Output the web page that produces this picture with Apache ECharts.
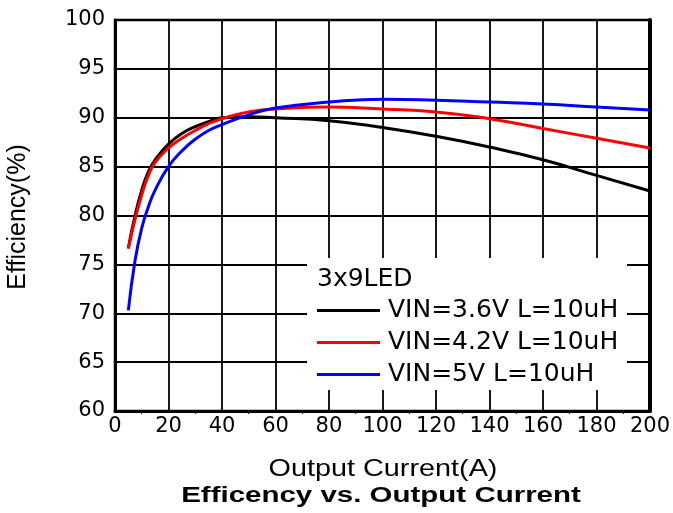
<!DOCTYPE html>
<html><head><meta charset="utf-8">
<script src="https://cdn.jsdelivr.net/npm/echarts@6/dist/echarts.min.js"></script>
<style>html,body{margin:0;padding:0;background:#fff}#c{width:673px;height:513px}</style>
</head><body><div id="c"></div>
<script>
const currents = [5, 7.5, 10, 12.5, 15, 20, 25, 30, 35, 40, 50, 60, 80, 100, 120, 140, 160, 180, 200];
const eff36 = [76.7, 80.0, 82.6, 84.5, 85.7, 87.3, 88.4, 89.1, 89.6, 90.0, 90.1, 90.0, 89.7, 89.0, 88.1, 87.0, 85.7, 84.1, 82.5];
const eff42 = [76.6, 79.6, 82.1, 84.1, 85.4, 86.9, 87.9, 88.7, 89.4, 89.9, 90.6, 90.9, 91.1, 90.9, 90.6, 89.9, 88.9, 87.9, 86.9];
const eff50 = [70.3, 75.4, 78.7, 80.9, 82.6, 85.0, 86.6, 87.8, 88.7, 89.3, 90.3, 91.0, 91.6, 91.9, 91.8, 91.6, 91.4, 91.1, 90.8];
const seriesNames = ['VIN=3.6V L=10uH', 'VIN=4.2V L=10uH', 'VIN=5V L=10uH'];
const seriesColors = ['#000000', '#ff0000', '#0000ff'];
const legendTitle = '3x9LED';
const xTitle = 'Output Current(A)';
const yTitle = 'Efficiency(%)';
const chartTitle = 'Efficency vs. Output Current';

const allValues = [eff36, eff42, eff50];
const chart = echarts.init(document.getElementById('c'));
const labelFont = { fontFamily: 'DejaVu Sans', fontSize: 21, color: '#000' };

chart.setOption({
  animation: false,
  backgroundColor: '#fff',
  grid: { left: 115, top: 20, right: 23, bottom: 102, show: true, borderColor: '#000', borderWidth: 2.5, backgroundColor: 'transparent' },
  xAxis: {
    type: 'value', min: 0, max: 200, interval: 20,
    axisLine: { show: true, onZero: false, lineStyle: { color: '#000', width: 3 } },
    axisTick: { show: false },
    minorTick: { show: true, splitNumber: 2, length: 3, lineStyle: { color: '#000', width: 1.2 } },
    axisLabel: Object.assign({ margin: 5 }, labelFont),
    splitLine: { show: true, lineStyle: { color: '#000', width: 1.8 } }
  },
  yAxis: [{
    type: 'value', min: 60, max: 100, interval: 5,
    axisLine: { show: true, onZero: false, lineStyle: { color: '#000', width: 3 } },
    axisTick: { show: false },
    axisLabel: Object.assign({ margin: 10 }, labelFont),
    splitLine: { show: true, lineStyle: { color: '#000', width: 1.8 } }
  }, {
    type: 'value', min: 60, max: 100, interval: 5, position: 'right',
    axisLine: { show: true, onZero: false, lineStyle: { color: '#000', width: 4 } },
    axisTick: { show: false }, axisLabel: { show: false }, splitLine: { show: false }
  }],
  legend: {
    orient: 'vertical', left: 317, top: 295, padding: 0,
    itemWidth: 63, itemHeight: 3, itemGap: 1, icon: 'rect',
    textStyle: { fontFamily: 'DejaVu Sans', fontSize: 25, lineHeight: 31, color: '#000', padding: [0, 0, 0, 3] },
    data: seriesNames
  },
  graphic: [
    { type: 'rect', z: 1, shape: { x: 307, y: 258, width: 320, height: 132 }, style: { fill: '#fff' } },
    { type: 'text', z: 5, x: 317, y: 279, style: { text: legendTitle, fontFamily: 'DejaVu Sans', fontSize: 25, fill: '#000', textAlign: 'left', textVerticalAlign: 'middle', align: 'left', verticalAlign: 'middle' } },
    { type: 'text', z: 5, x: 18, y: 217, rotation: Math.PI / 2, style: { text: yTitle, fontFamily: 'Liberation Sans', fontSize: 25, fill: '#000', textAlign: 'center', textVerticalAlign: 'middle', align: 'center', verticalAlign: 'middle' } },
    { type: 'text', z: 5, x: 383, y: 469, scaleX: 1.2, style: { text: xTitle, fontFamily: 'Liberation Sans', fontSize: 24, fill: '#000', textAlign: 'center', textVerticalAlign: 'middle', align: 'center', verticalAlign: 'middle' } },
    { type: 'text', z: 5, x: 381, y: 496, scaleX: 1.34, style: { text: chartTitle, fontFamily: 'Liberation Sans', fontWeight: 'bold', fontSize: 22, fill: '#000', textAlign: 'center', textVerticalAlign: 'middle', align: 'center', verticalAlign: 'middle' } }
  ],
  series: allValues.map((vals, i) => ({
    name: seriesNames[i], type: 'line', smooth: 0.5, showSymbol: false, symbol: 'none',
    color: seriesColors[i], lineStyle: { color: seriesColors[i], width: 3 }, z: 3,
    data: currents.map((c, j) => [c, vals[j]])
  }))
});
</script>
</body></html>
